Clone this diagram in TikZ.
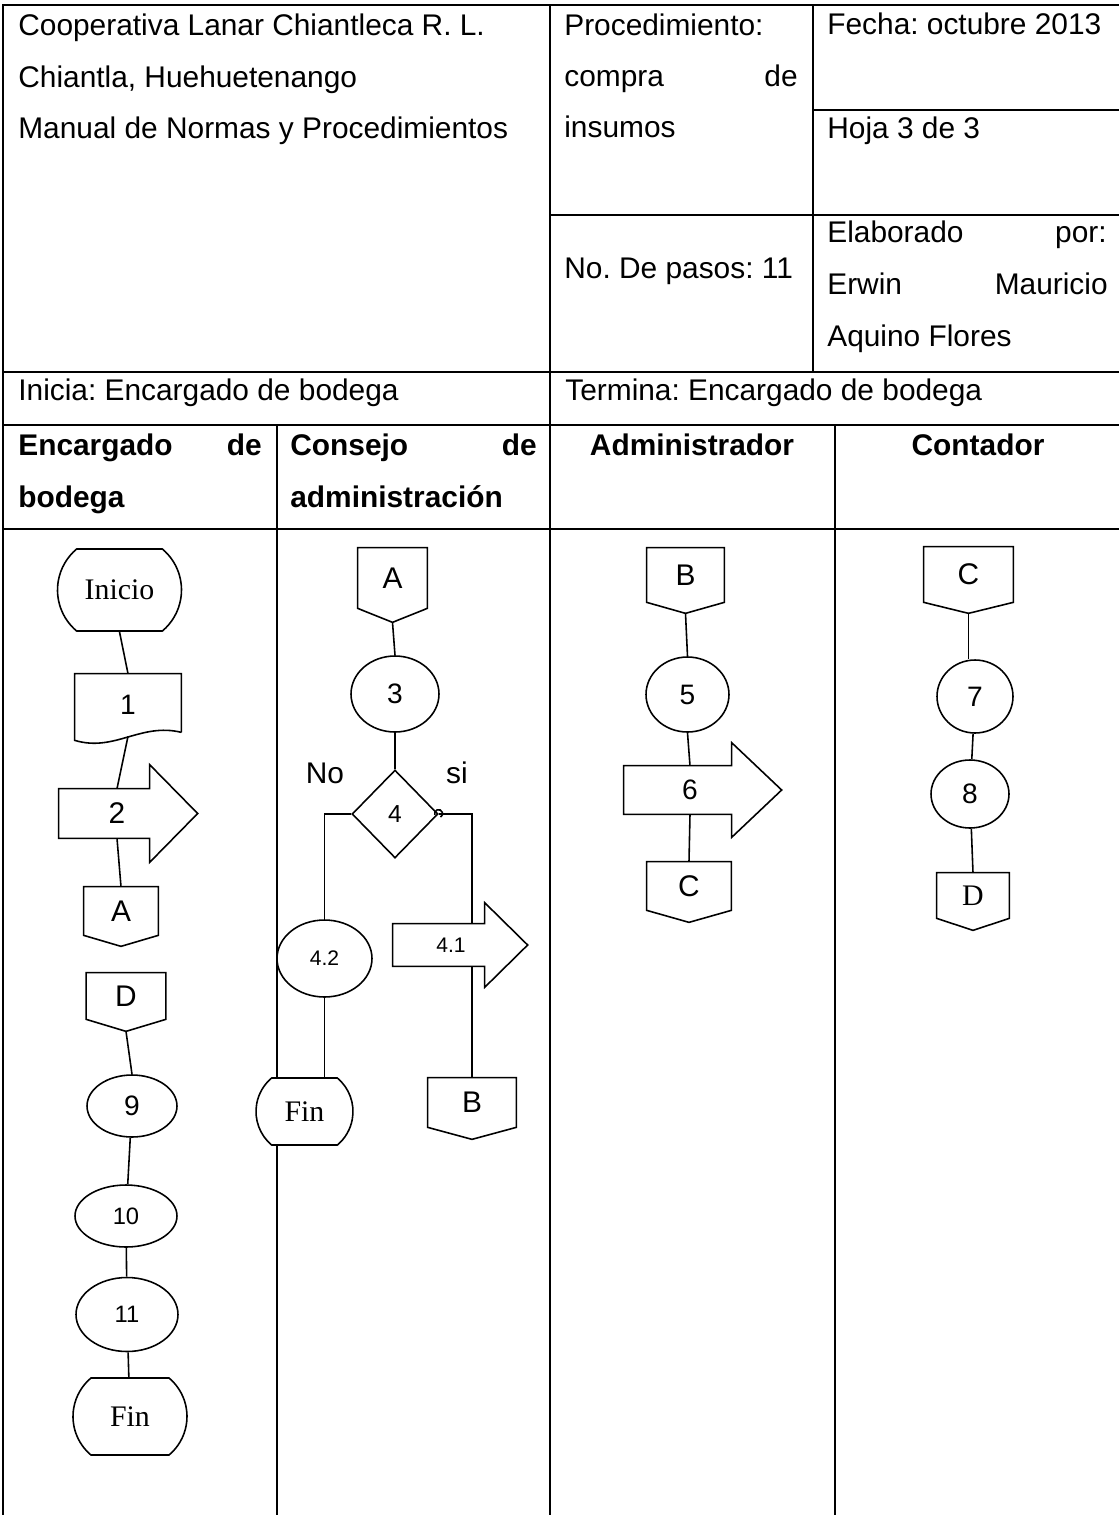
\documentclass[tikz,border=0pt]{standalone}
\usepackage{fontspec}
\setmainfont{Liberation Sans}
\newfontfamily\romana{Liberation Serif}
\frenchspacing
\usetikzlibrary{shapes.geometric,shapes.misc,calc}

\tikzset{
    tabla/.style={line width=0.9pt},
    linea/.style={line width=0.9pt},
    txt/.style={anchor=base west, inner sep=0},
    txtr/.style={anchor=base east, inner sep=0},
    cab/.style={inner sep=0, font=\fontsize{17}{20}\selectfont\bfseries},
    paso/.style={draw, ellipse, inner sep=0, line width=0.9pt, font=\fontsize{16}{19}\selectfont},
    terminal/.style={draw, fill=white, rounded rectangle, rounded rectangle arc length=100,
        inner sep=0, line width=0.9pt, font=\romana\fontsize{17}{20}\selectfont},
    caja/.style={inner sep=0},
    decision/.style={draw, diamond, inner sep=0, line width=0.9pt, font=\fontsize{14}{16}\selectfont},
    chico/.style={font=\fontsize{13.5}{16}\selectfont},
    mini/.style={font=\fontsize{12}{14}\selectfont},
}

% conector de salida de pagina: nodo, punta
\newcommand{\salida}[2]{\draw[linea] (#1.north west) -- (#1.north east) -- (#1.south east)
    -- ($(#1.south)+(0,#2)$) -- (#1.south west) -- cycle;}
% flecha de paso: nodo, cuerpo, punta, ala
\newcommand{\flecha}[4]{\draw[linea] (#1.north west) -- ++(#2,0) -- ++(0,-#4)
    -- ($(#1.west)+(#2+#3,0)$) -- ($(#1.south west)+(#2,#4)$) -- ++(0,-#4)
    -- (#1.south west) -- cycle;}

\begin{document}
\begin{tikzpicture}[x=0.02cm, y=-0.02cm, font=\fontsize{17}{20}\selectfont]
    \useasboundingbox (0,0) rectangle (1119,1515);

    % tabla
    \draw[tabla] (1119,5) -- (3,5) -- (3,1515);
    \draw[tabla] (550,5) -- (550,1515);
    \draw[tabla] (813,5) -- (813,372);
    \draw[tabla] (813,110) -- (1119,110);
    \draw[tabla] (550,215) -- (1119,215);
    \draw[tabla] (3,372) -- (1119,372);
    \draw[tabla] (3,425) -- (1119,425);
    \draw[tabla] (3,529) -- (1119,529);
    \draw[tabla] (277,425) -- (277,1515);
    \draw[tabla] (835,425) -- (835,1515);

    % encabezado
    \node[txt] (tcoop) at (18,35) {Cooperativa Lanar Chiantleca R. L.};
    \node[txt] (tchi) at (18,87) {Chiantla, Huehuetenango};
    \node[txt] (tman) at (18,138) {Manual de Normas y Procedimientos};
    \node[txt] (tproc) at (564,35) {Procedimiento:};
    \node[txt] (tcom) at (564,86) {compra};
    \node[txtr] (tde) at (798,86) {de};
    \node[txt] (tins) at (564,137) {insumos};
    \node[txt] (tfec) at (827,34) {Fecha: octubre 2013};
    \node[txt] (thoj) at (827,138) {Hoja 3 de 3};
    \node[txt] (tpas) at (564,278) {No. De pasos: 11};
    \node[txt] (telab) at (827,242) {Elaborado};
    \node[txtr] (tpor) at (1107,242) {por:};
    \node[txt] (terw) at (827,294) {Erwin};
    \node[txtr] (tmau) at (1108,294) {Mauricio};
    \node[txt] (taqu) at (827,346) {Aquino Flores};
    \node[txt] (tini) at (18,400) {Inicia: Encargado de bodega};
    \node[txt] (tter) at (565,400) {Termina: Encargado de bodega};

    % columnas
    \node[cab, anchor=base west] (henc) at (18,455) {Encargado};
    \node[cab, anchor=base east] (hde1) at (262,455) {de};
    \node[cab, anchor=base west] (hbod) at (18,507) {bodega};
    \node[cab, anchor=base west] (hcon) at (290,455) {Consejo};
    \node[cab, anchor=base east] (hde2) at (537,455) {de};
    \node[cab, anchor=base west] (hadm) at (290,507) {administración};
    \node[cab, anchor=base] (hadr) at (692,455) {Administrador};
    \node[cab, anchor=base] (hcnt) at (978,455) {Contador};

    % encargado de bodega
    \node[terminal, minimum width=2.48cm, minimum height=1.64cm] (ini) at (119.5,590) {Inicio};
    \node[caja, minimum width=2.12cm, minimum height=1.24cm, font=\fontsize{16}{19}\selectfont] (d1) at (128,705) {1};
    \draw[linea] ($(d1.south east)+(0,-4)$) -- (d1.north east) -- (d1.north west)
        -- ($(d1.south west)+(0,4)$) .. controls ($(d1.south west)+(40,16)$)
        and ($(d1.south east)+(-41,-14)$) .. ($(d1.south east)+(0,-4)$);
    \node[caja, minimum width=2.32cm, minimum height=0.98cm] (a2) at (117,813.5) {2};
    \flecha{a2}{91}{48}{24}
    \node[caja, minimum width=1.48cm, minimum height=0.96cm] (cA1) at (121,911) {A};
    \salida{cA1}{11}
    \node[caja, minimum width=1.58cm, minimum height=0.92cm] (cD1) at (126,996) {D};
    \salida{cD1}{12}
    \node[paso, minimum width=1.8cm, minimum height=1.24cm] (e9) at (132,1106) {9};
    \node[paso, chico, minimum width=2.04cm, minimum height=1.24cm] (e10) at (126,1216) {10};
    \node[paso, chico, minimum width=2.04cm, minimum height=1.48cm] (e11) at (127,1314.5) {11};
    \node[terminal, minimum width=2.28cm, minimum height=1.54cm] (fin1) at (130,1416.5) {Fin};

    \draw[linea] (ini.south) -- (d1.north);
    \draw[linea] (d1.south) -- (a2.north);
    \draw[linea] (a2.south) -- (cA1.north);
    \draw[linea] ($(cD1.south)+(0,12)$) -- (e9.north);
    \draw[linea] (e9) -- (e10);
    \draw[linea] (e10) -- (e11);
    \draw[linea] (e11) -- (fin1);

    % consejo de administracion
    \node[caja, minimum width=1.38cm, minimum height=1.2cm] (cA2) at (392.5,578) {A};
    \salida{cA2}{14}
    \node[paso, minimum width=1.76cm, minimum height=1.52cm] (e3) at (395,694) {3};
    \node[decision, minimum width=1.72cm, minimum height=1.76cm] (d4) at (395,814) {4};
    \node[inner sep=0] (lno) at (325,773) {No};
    \node[inner sep=0] (lsi) at (457,773) {si};
    \node[paso, mini, minimum width=1.9cm, minimum height=1.54cm] (e42) at (324.5,958.5) {4.2};
    \node[caja, mini, minimum width=2.32cm, minimum height=0.84cm] (a41) at (451,945) {4.1};
    \flecha{a41}{92}{43}{21}
    \node[terminal, minimum width=1.94cm, minimum height=1.34cm] (fin2) at (304.5,1111.5) {Fin};
    \node[caja, minimum width=1.76cm, minimum height=0.98cm] (cB1) at (472,1102.5) {B};
    \salida{cB1}{12}

    \draw[linea] ($(cA2.south)+(0,14)$) -- (e3.north);
    \draw[linea] (e3) -- (d4);
    \draw[linea] (d4.west) -| (e42.north);
    \draw[linea] (d4.east) -| (cB1.north |- a41.north);
    \draw[linea] (cB1.north |- a41.south) -- (cB1.north);
    \draw[linea] (e42.south) -- (e42.south |- fin2.north);
    \draw[linea] ($(d4.east)+(-4,1)$) arc[start angle=200, end angle=-60, radius=0.08cm];

    % administrador
    \node[caja, minimum width=1.54cm, minimum height=1.08cm] (cB2) at (685.5,575) {B};
    \salida{cB2}{11}
    \node[paso, minimum width=1.66cm, minimum height=1.5cm] (e5) at (687.5,694.5) {5};
    \node[caja, minimum width=2.64cm, minimum height=0.96cm, font=\fontsize{16}{19}\selectfont] (a6) at (690,790) {6};
    \flecha{a6}{108}{50}{23}
    \node[caja, minimum width=1.68cm, minimum height=0.96cm] (cC1) at (689,886) {C};
    \salida{cC1}{12}

    \draw[linea] ($(cB2.south)+(0,11)$) -- (e5.north);
    \draw[linea] (e5.south) -- (a6.north);
    \draw[linea] (a6.south) -- (cC1.north);

    % contador
    \node[caja, minimum width=1.78cm, minimum height=1.1cm] (cC2) at (968.5,574.5) {C};
    \salida{cC2}{11}
    \node[paso, minimum width=1.52cm, minimum height=1.46cm] (e7) at (975,696.5) {7};
    \node[paso, minimum width=1.56cm, minimum height=1.36cm] (e8) at (970,794) {8};
    \node[caja, minimum width=1.44cm, minimum height=0.9cm, font=\romana\fontsize{17}{20}\selectfont] (cD2) at (973,895.5) {D};
    \salida{cD2}{12}

    \draw[linea] ($(cC2.south)+(0,11)$) -- (cC2.south |- e7.north);
    \draw[linea] (e7) -- (e8);
    \draw[linea] (e8) -- (cD2.north);
\end{tikzpicture}
\end{document}
